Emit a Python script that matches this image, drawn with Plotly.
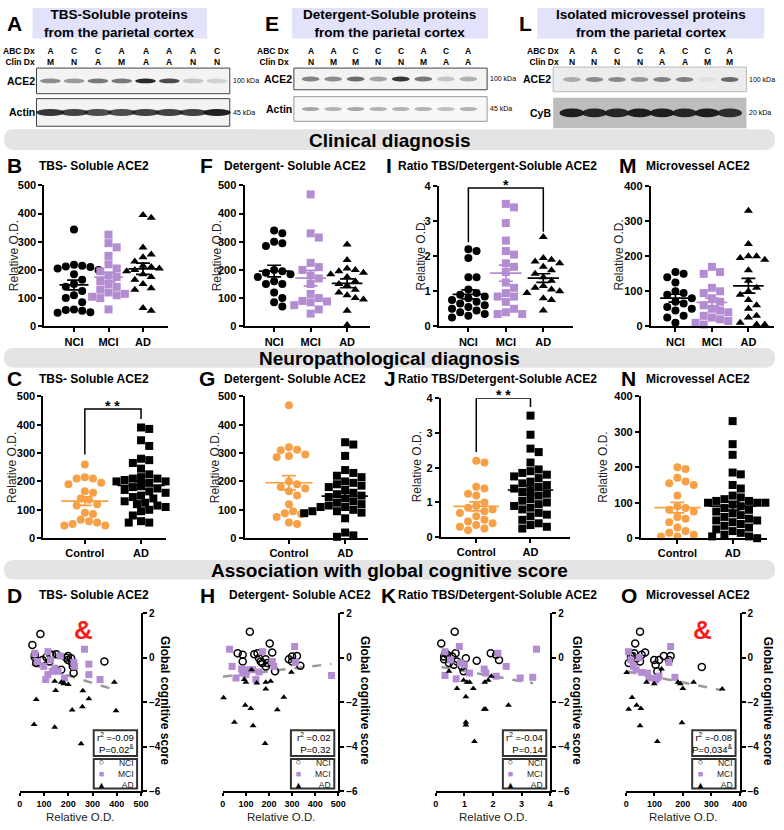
import numpy as np
import plotly.graph_objects as go

W, H = 784, 830
FONT = "Liberation Sans, Arial, Helvetica, sans-serif"
PURPLE = "#b48cd2"
ORANGE = "#f8a046"
GRAYBAR = "#e4e4e4"
LAV = "#e2e2fa"

# ---------------- western blots (lane codes + band darkness) ----------------
blotA_abc = ["A", "C", "C", "A", "A", "A", "A", "C"]
blotA_clin = ["M", "N", "A", "M", "A", "A", "N", "N"]
blotA_ace2 = [0.45, 0.4, 0.55, 0.55, 0.9, 0.75, 0.2, 0.15]
blotA_actin = [0.85, 0.8, 0.75, 0.75, 0.8, 0.8, 0.8, 0.95]

blotE_abc = ["A", "A", "C", "C", "C", "A", "C", "A"]
blotE_clin = ["N", "M", "M", "N", "N", "M", "A", "A"]
blotE_ace2 = [0.5, 0.45, 0.6, 0.35, 0.85, 0.55, 0.2, 0.3]
blotE_actin = [0.35, 0.3, 0.35, 0.3, 0.3, 0.3, 0.25, 0.3]

blotL_abc = ["A", "A", "C", "C", "A", "C", "C", "A"]
blotL_clin = ["N", "N", "N", "N", "A", "A", "M", "M"]
blotL_ace2 = [0.3, 0.45, 0.45, 0.4, 0.5, 0.5, 0.05, 0.6]
blotL_cyb = [0.95, 0.9, 0.9, 0.95, 0.95, 0.9, 0.95, 0.85]

# ---------------- clinical diagnosis (NCI / MCI / AD) ----------------
clin_labels = ["NCI", "MCI", "AD"]
tbs_nci = [343, 218, 215, 212, 210, 205, 200, 185, 165, 150, 140, 125, 110, 100, 85, 60, 58, 55, 50, 48]
tbs_mci = [325, 295, 280, 250, 220, 205, 195, 180, 175, 160, 150, 140, 130, 120, 115, 110, 105, 100, 60]
tbs_ad = [395, 385, 280, 255, 245, 230, 215, 210, 205, 200, 195, 185, 175, 165, 150, 135, 130, 65, 55]

det_nci = [340, 330, 300, 295, 285, 200, 190, 195, 185, 175, 160, 150, 150, 120, 100, 85, 70]
det_mci = [468, 330, 315, 225, 210, 200, 180, 170, 150, 115, 100, 90, 88, 85, 75, 60, 45]
det_ad = [290, 235, 205, 200, 195, 190, 185, 175, 160, 150, 145, 130, 120, 110, 100, 95, 55, 5]

ratio_nci = [2.2, 2.15, 1.95, 1.4, 1.4, 1.05, 0.95, 0.9, 0.85, 0.8, 0.75, 0.7, 0.65, 0.6, 0.55, 0.5, 0.45, 0.4, 0.35, 0.3, 0.25]
ratio_mci = [3.5, 3.4, 2.95, 2.45, 2.15, 2.05, 1.8, 1.7, 1.55, 1.25, 1.1, 0.95, 0.85, 0.85, 0.7, 0.5, 0.4, 0.35, 0.35]
ratio_ad = [2.55, 1.95, 1.9, 1.85, 1.8, 1.7, 1.6, 1.5, 1.4, 1.3, 1.15, 1.1, 1.05, 1.0, 0.95, 0.8, 0.75, 0.45]

mv_nci = [155, 150, 140, 125, 100, 90, 95, 80, 70, 65, 55, 50, 45, 30, 25, 10]
mv_mci = [170, 155, 150, 110, 100, 95, 80, 70, 60, 50, 45, 40, 30, 25, 20, 15, 10, 5]
mv_ad = [330, 235, 200, 200, 195, 190, 160, 130, 110, 100, 90, 75, 60, 50, 30, 25, 10, 5, 5]

# ---------------- neuropathological diagnosis (Control / AD) ----------------
path_labels = ["Control", "AD"]
tbs_ctl = [260, 215, 210, 210, 195, 190, 165, 160, 140, 135, 120, 115, 90, 85, 65, 60, 55, 50, 45, 45]
tbs_pad = [390, 385, 345, 325, 280, 275, 265, 245, 225, 215, 210, 210, 205, 200, 200, 195, 190, 185, 180,
           175, 170, 165, 160, 150, 145, 140, 130, 125, 120, 115, 110, 100, 95, 80, 60, 55, 55]
det_ctl = [468, 320, 312, 310, 295, 290, 285, 200, 190, 180, 175, 165, 150, 120, 95, 88, 85, 75, 55, 50]
det_pad = [338, 330, 290, 240, 230, 220, 215, 200, 195, 190, 180, 170, 160, 155, 150, 145, 140, 135, 130,
           125, 120, 115, 110, 105, 100, 95, 92, 90, 88, 185, 180, 70, 110, 100, 95, 20, 10, 5]
ratio_ctl = [2.2, 2.15, 1.45, 1.4, 1.25, 1.2, 1.0, 0.9, 0.85, 0.8, 0.75, 0.7, 0.6, 0.5, 0.45, 0.4, 0.35, 0.3, 0.25, 0.2]
ratio_pad = [3.5, 2.95, 2.55, 2.45, 2.15, 1.95, 1.9, 1.85, 1.8, 1.75, 1.7, 1.6, 1.55, 1.5, 1.45, 1.4, 1.35, 1.3,
             1.25, 1.2, 1.1, 1.05, 1.0, 0.95, 0.9, 0.85, 0.8, 0.7, 0.65, 0.6, 0.5, 0.4, 0.35, 0.3, 0.25]
mv_ctl = [200, 195, 170, 160, 155, 150, 120, 90, 85, 75, 80, 60, 55, 45, 30, 20, 15, 10, 5, 5]
mv_pad = [330, 265, 235, 185, 180, 150, 140, 120, 115, 110, 105, 105, 100, 100, 100, 95, 90, 85, 80, 75,
          70, 65, 60, 55, 50, 50, 45, 40, 35, 30, 25, 20, 15, 10, 5, 5, 0]

# ---------------- association with global cognitive score ----------------
D_nci_x = [52, 85, 62, 62, 68, 93, 110, 126, 134, 151, 171, 192, 199, 212, 216, 219, 222, 199, 349, 123]
D_nci_y = [0.57, 1.06, 0.13, 0.02, -0.24, -0.1, 0.02, 0.13, 0.13, 0.15, -0.54, 0.0, -0.1, -0.02, -0.24, -0.39, -0.69, 0.08, -0.17, -0.17]
D_mci_x = [62, 73, 99, 116, 127, 107, 116, 144, 158, 167, 185, 223, 267, 285, 285, 331, 226, 134]
D_mci_y = [0.2, -0.17, -0.39, 0.27, -0.1, -0.98, -0.76, -0.47, -0.61, 0.08, -0.91, -0.21, 0.38, -0.29, -0.76, -0.98, -0.39, -0.61]
D_ad_x = [68, 59, 144, 148, 144, 171, 182, 200, 216, 258, 260, 253, 285, 390, 397, 182]
D_ad_y = [-1.87, -3.0, -1.06, -1.47, -3.12, -1.1, -1.17, -1.2, -2.35, -2.2, -1.48, -3.86, -1.84, -1.1, -2.38, -1.13]
D_fit_x, D_fit_y = [50, 395], [-0.3, -1.45]

H_nci_x = [117, 64, 86, 86, 136, 150, 157, 164, 171, 186, 203, 214, 226, 286, 300, 300, 321, 336, 186, 193]
H_nci_y = [1.16, 0.2, 0.13, -0.17, 0.15, 0.2, -0.02, -0.17, -0.24, -0.07, 0.64, 0.23, -0.61, -0.07, 0.05, -0.17, 0.08, -0.36, -0.39, -0.24]
H_mci_x = [29, 40, 57, 81, 100, 107, 86, 143, 157, 171, 214, 221, 311, 314, 471, 129]
H_mci_y = [0.38, -0.39, -0.91, -0.51, -0.76, -0.54, -0.69, -0.98, -0.64, 0.27, -0.17, -0.39, 0.5, -0.21, -0.8, -0.54]
H_ad_x = [3, 50, 97, 121, 131, 124, 100, 147, 186, 186, 207, 236, 264, 183, 297, 93]
H_ad_y = [-1.8, -2.9, -2.13, -2.28, -3.05, -0.54, -1.1, -1.13, -1.1, -1.4, -1.06, -2.33, -1.77, -3.85, -0.65, -0.98]
H_fit_x, H_fit_y = [0, 470], [-0.85, -0.28]

K_nci_x = [0.19, 0.66, 0.29, 0.34, 0.4, 0.46, 0.57, 0.63, 0.69, 0.74, 0.91, 0.97, 1.05, 1.43, 1.92, 2.11, 2.21, 0.29]
K_nci_y = [0.64, 1.16, -0.07, 0.2, 0.13, -0.24, 0.05, -0.32, 0.2, -0.17, -0.39, -0.61, -0.02, -0.14, 0.2, 0.13, -0.1, 0.05]
K_mci_x = [0.32, 0.32, 0.51, 0.71, 0.82, 1.0, 1.18, 1.69, 1.75, 2.11, 2.17, 2.46, 2.95, 3.39, 3.52, 0.86]
K_mci_y = [0.27, -0.8, -0.1, -0.95, 0.5, -0.32, -0.69, -0.51, -0.69, -0.83, 0.2, -0.39, -0.91, -0.88, 0.38, -0.24]
K_ad_x = [0.46, 0.74, 0.97, 1.09, 1.18, 1.05, 1.31, 1.05, 1.05, 1.35, 1.69, 1.74, 1.71, 1.83, 1.94, 2.54]
K_ad_y = [-0.61, -1.38, -1.01, -1.1, -1.1, -1.75, -1.38, -2.9, -3.02, -3.76, -2.31, -2.31, -1.1, -1.01, -0.83, -2.13]
K_fit_x, K_fit_y = [0.2, 3.4], [-0.42, -1.15]

O_nci_x = [49, 32, 9, 17, 29, 37, 49, 55, 67, 99, 104, 110, 116, 133, 151, 157, 267, 23]
O_nci_y = [1.16, 0.64, -0.24, 0.05, 0.2, -0.02, -0.17, 0.13, 0.23, -0.1, -0.32, -0.61, -0.1, 0.08, -0.1, 0.08, -0.42, 0.08]
O_mci_x = [8, 17, 26, 35, 55, 75, 81, 104, 110, 116, 157, 151, 172, 46]
O_mci_y = [0.27, -0.1, -0.39, -0.54, -0.66, -0.69, -0.91, -1.0, -0.91, -0.83, 0.5, -0.21, -0.88, 0.0]
O_ad_x = [2, 9, 21, 37, 52, 49, 72, 99, 110, 125, 183, 191, 200, 197, 238, 339]
O_ad_y = [-0.66, -2.31, -1.79, -2.13, -2.28, -3.05, -1.1, -1.17, -3.76, -0.51, -1.1, -1.17, -1.38, -2.92, -1.1, -1.4]
O_fit_x, O_fit_y = [5, 335], [-0.62, -1.45]

# ============================================================================
fig = go.Figure()
shapes, anns, lay = [], [], {}


def P(x, y):
    return x / W, 1 - y / H


def text(x, y, s, size=11, bold=True, xa="center", ya="middle", color="black", angle=0, align="center"):
    px_, py_ = P(x, y)
    anns.append(dict(x=px_, y=py_, xref="paper", yref="paper", text=s, showarrow=False,
                     xanchor=xa, yanchor=ya, textangle=angle, borderpad=0, align=align,
                     font=dict(family=FONT, size=size, color=color,
                               weight="bold" if bold else "normal")))


def rect(x0, y0, x1, y1, fill, line=None, lw=1, layer="below", kind="rect"):
    a, b = P(x0, y1)
    c, d = P(x1, y0)
    shapes.append(dict(type=kind, xref="paper", yref="paper", x0=a, y0=b, x1=c, y1=d,
                       fillcolor=fill, layer=layer,
                       line=dict(color=line or "rgba(0,0,0,0)", width=lw if line else 0)))


def rrect(x0, y0, x1, y1, r, fill):
    def q(x, y):
        a, b = P(x, y)
        return f"{a:.5f},{b:.5f}"
    path = (f"M{q(x0 + r, y0)} L{q(x1 - r, y0)} Q{q(x1, y0)} {q(x1, y0 + r)} "
            f"L{q(x1, y1 - r)} Q{q(x1, y1)} {q(x1 - r, y1)} "
            f"L{q(x0 + r, y1)} Q{q(x0, y1)} {q(x0, y1 - r)} "
            f"L{q(x0, y0 + r)} Q{q(x0, y0)} {q(x0 + r, y0)} Z")
    shapes.append(dict(type="path", xref="paper", yref="paper", path=path,
                       fillcolor=fill, line=dict(width=0), layer="below"))


BASE = dict(showline=True, linecolor="black", linewidth=2, ticks="outside", ticklen=4,
            tickwidth=2, tickcolor="black", showgrid=False, zeroline=False, fixedrange=True,
            tickfont=dict(family=FONT, size=11, color="black", weight="bold"))
n_ax = [0]


def axes(x0, x1, ytop, ybot, xkw, ykw):
    n_ax[0] += 1
    s = "" if n_ax[0] == 1 else str(n_ax[0])
    lay["xaxis" + s] = {**BASE, "domain": [x0 / W, x1 / W], "anchor": "y" + s, **xkw}
    lay["yaxis" + s] = {**BASE, "domain": [1 - ybot / H, 1 - ytop / H], "anchor": "x" + s, **ykw}
    return "x" + s, "y" + s


# ---------------- blot header ----------------
def blot(lanes, abc, clin, lab_right, rows):
    for x, a, c in zip(lanes, abc, clin):
        text(x, 51.5, f"{a}<br>{c}", size=8.5)
    text(lab_right, 51.5, "ABC Dx<br>Clin Dx", size=8.5, xa="right", align="right")
    for lab, bx0, bx1, y0, y1, vals, bh, bw, bg, border, kda in rows:
        rect(bx0, y0, bx1, y1, bg, border, 1)
        yc = (y0 + y1) / 2
        for x, v in zip(lanes, vals):
            rect(x - bw / 2, yc - bh / 2, x + bw / 2, yc + bh / 2,
                 f"rgba(20,20,20,{v})", kind="circle")
        text(bx0 - 1, yc, lab, size=10.5, xa="right")
        text(bx1 + 2, yc, kda, size=7, bold=False, xa="left")


def blot_title(letter, lx, x0, x1, l1, l2):
    text(lx, 18, letter, size=21)
    rect(x0, 2, x1, 33, LAV)
    text((x0 + x1) / 2, 17.5, f"{l1}<br>{l2}", size=13.5)


blot_title("A", 12, 30, 207, "TBS-Soluble proteins", "from the parietal cortex")
blot_title("E", 273, 293, 492, "Detergent-Soluble proteins", "from the parietal cortex")
blot_title("L", 530, 542, 772, "Isolated microvessel proteins", "from the parietal cortex")

blot(np.linspace(48, 217, 8), blotA_abc, blotA_clin, 33, [
    ("ACE2", 34, 230, 63, 89, blotA_ace2, 5, 21, "#f3f3f3", "#444", "100 kDa"),
    ("Actin", 34, 230, 94, 122, blotA_actin, 7, 28, "#f3f3f3", "#444", "45 kDa")])
blot(np.linspace(312, 472, 8), blotE_abc, blotE_clin, 291, [
    ("ACE2", 295, 491, 63, 85, blotE_ace2, 5, 18, "#f3f3f3", "#444", "100 kDa"),
    ("Actin", 295, 491, 92, 117, blotE_actin, 4, 18, "#f8f8f8", "#999", "45 kDa")])
blot(np.linspace(577, 737, 8), blotL_abc, blotL_clin, 565, [
    ("ACE2", 558, 754, 62, 87, blotL_ace2, 5, 18, "#ececec", "#bbb", "100 kDa"),
    ("CyB", 558, 754, 93, 124, blotL_cyb, 9, 25, "#bdbdbd", None, "20 kDa")])

# ---------------- section bars ----------------
for y0, y1, s in [(125, 146, "Clinical diagnosis"), (347, 367, "Neuropathological diagnosis"),
                  (562, 582, "Association with global cognitive score")]:
    rrect(1, y0, 783, y1, 10, GRAYBAR)
    text(392, (y0 + y1) / 2 + 1, s, size=19)


# ---------------- dot plots ----------------
def swarm(vals, ppu, d=8.3):
    vals = np.asarray(vals, float)
    offs = np.zeros(len(vals))
    placed = []
    for i in np.argsort(-vals):
        y = vals[i] * ppu
        c = 0.0
        for k in range(80):
            c = 0.0 if k == 0 else ((k + 1) // 2) * d * 0.5 * (1 if k % 2 else -1)
            if all((c - a) ** 2 + (y - b) ** 2 >= d * d for a, b in placed):
                break
        placed.append((c, y))
        offs[i] = c
    return offs


def dot_panel(x0, x1, ytop, ybot, ymax, dtick, cats, labels, groups, bracket=None):
    u = cats[1] - cats[0]
    xr = [-(cats[0] - x0) / u, (x1 - cats[0]) / u]
    xa, ya = axes(x0, x1, ytop, ybot,
                  dict(range=xr, tickvals=list(range(len(labels))), ticktext=labels),
                  dict(range=[0, ymax], dtick=dtick))
    ppu = (ybot - ytop) / ymax
    for i, (vals, sym, col) in enumerate(groups):
        fig.add_trace(go.Scatter(x=i + swarm(vals, ppu) / u, y=vals, mode="markers",
                                 xaxis=xa, yaxis=ya, cliponaxis=False,
                                 marker=dict(symbol=sym, color=col, size=8, line=dict(width=0))))
    for i, (vals, sym, col) in enumerate(groups):
        v = np.asarray(vals, float)
        m, se = v.mean(), v.std(ddof=1) / np.sqrt(len(v))
        fig.add_trace(go.Scatter(x=[i - 0.42, i + 0.42], y=[m, m], mode="lines", xaxis=xa, yaxis=ya,
                                 line=dict(color=col, width=1.7), cliponaxis=False))
        fig.add_trace(go.Scatter(x=[i], y=[m], mode="markers", xaxis=xa, yaxis=ya,
                                 marker=dict(size=1, color=col),
                                 error_y=dict(type="data", array=[se], width=7, thickness=1.7, color=col)))
    if bracket:
        a, b, lv, top, rv, star = bracket
        fig.add_trace(go.Scatter(x=[a, a, b, b], y=[lv, top, top, rv], mode="lines", xaxis=xa, yaxis=ya,
                                 line=dict(color="black", width=1.5), cliponaxis=False))
        anns.append(dict(x=(a + b) / 2, y=top, xref=xa, yref=ya, text=star, showarrow=False,
                         yanchor="bottom", yshift=-7,
                         font=dict(family=FONT, size=14, color="black", weight="bold")))


def panel_head(letter, lx, tx, y, title):
    text(lx, y, letter, size=21)
    text(tx, y, title, size=12, xa="left")


def ytitle(x, y, s="Relative O.D."):
    text(x, y, s, size=12, bold=False, angle=-90, color="#222")


# clinical row
panel_head("B", 12, 35, 162, "TBS- Soluble ACE2")
panel_head("F", 206, 223, 162, "Detergent- Soluble ACE2")
panel_head("I", 391, 400, 162, "Ratio TBS/Detergent-Soluble ACE2")
panel_head("M", 634, 651, 162, "Microvessel ACE2")
for x in (12, 217, 424, 625):
    ytitle(x, 253)

dot_panel(42, 167, 182, 325, 500, 100, [72, 107, 142], clin_labels,
          [(tbs_nci, "circle", "black"), (tbs_mci, "square", PURPLE), (tbs_ad, "triangle-up", "black")])
dot_panel(245, 372, 182, 325, 500, 100, [275, 312, 347], clin_labels,
          [(det_nci, "circle", "black"), (det_mci, "square", PURPLE), (det_ad, "triangle-up", "black")])
dot_panel(442, 578, 183, 325, 4, 1, [472, 510, 549], clin_labels,
          [(ratio_nci, "circle", "black"), (ratio_mci, "square", PURPLE), (ratio_ad, "triangle-up", "black")],
          bracket=(0, 2, 2.4, 3.95, 2.7, "*"))
dot_panel(657, 782, 183, 325, 400, 100, [682, 719, 755], clin_labels,
          [(mv_nci, "circle", "black"), (mv_mci, "square", PURPLE), (mv_ad, "triangle-up", "black")])

# neuropathological row
panel_head("C", 12, 35, 378, "TBS- Soluble ACE2")
panel_head("G", 207, 223, 378, "Detergent- Soluble ACE2")
panel_head("J", 392, 400, 378, "Ratio TBS/Detergent-Soluble ACE2")
panel_head("N", 634, 651, 378, "Microvessel ACE2")
for x in (9, 215, 420, 609):
    ytitle(x, 468)

dot_panel(41, 165, 396, 540, 500, 100, [83, 140], path_labels,
          [(tbs_ctl, "circle", ORANGE), (tbs_pad, "square", "black")],
          bracket=(0, 1, 295, 455, 420, "* *"))
dot_panel(245, 370, 396, 540, 500, 100, [290, 347], path_labels,
          [(det_ctl, "circle", ORANGE), (det_pad, "square", "black")])
dot_panel(444, 575, 398, 539, 4, 1, [480, 535], path_labels,
          [(ratio_ctl, "circle", ORANGE), (ratio_pad, "square", "black")],
          bracket=(0, 1, 2.45, 4.0, 3.75, "* *"))
dot_panel(647, 775, 396, 540, 400, 100, [684, 740], path_labels,
          [(mv_ctl, "circle", ORANGE), (mv_pad, "square", "black")])


# ---------------- correlation panels ----------------
def corr_panel(x0, x1, xmax, dtick, nci, mci, ad, fit, r2, p, ytx):
    small = dict(family=FONT, size=9, color="black", weight="bold")
    xa, ya = axes(x0, x1, 616, 797,
                  dict(range=[0, xmax], dtick=dtick, tickfont=small, ticklen=3),
                  dict(range=[-6, 2], dtick=2, side="right", tickfont=dict(small, size=10)))
    fig.add_trace(go.Scatter(x=fit[0], y=fit[1], mode="lines", xaxis=xa, yaxis=ya,
                             line=dict(color="#999999", width=2.5, dash="dash")))
    fig.add_trace(go.Scatter(x=nci[0], y=nci[1], mode="markers", xaxis=xa, yaxis=ya, cliponaxis=False,
                             marker=dict(symbol="circle-open", color="black", size=7, line=dict(width=1.5))))
    fig.add_trace(go.Scatter(x=mci[0], y=mci[1], mode="markers", xaxis=xa, yaxis=ya, cliponaxis=False,
                             marker=dict(symbol="square", color=PURPLE, size=7, line=dict(width=0))))
    fig.add_trace(go.Scatter(x=ad[0], y=ad[1], mode="markers", xaxis=xa, yaxis=ya, cliponaxis=False,
                             marker=dict(symbol="triangle-up", color="black", size=6, line=dict(width=0))))
    bx1 = x1 - 4
    bx0 = bx1 - 44
    rect(bx0, 735, bx1, 761, "white", "#333", 2, layer="above")
    text(bx1 - 2, 748, f"{r2}<br>{p}", size=9.5, bold=False, xa="right", align="right")
    rect(bx0, 764, bx1, 794, "white", "#333", 2, layer="above")
    text(bx0 + 8, 779, f"○<br><span style='color:{PURPLE}'>■</span><br>▲", size=9, color="black")
    text(bx1 - 2, 779, "NCI<br>MCI<br>AD", size=8.5, bold=False, xa="right", align="right", color="#222")
    text((x0 + x1) / 2, 822.5, "Relative O.D.", size=11.5, bold=False, color="#222")
    text(ytx, 705, "Global cognitive score", size=12, angle=90)


panel_head("D", 12, 35, 598, "TBS- Soluble ACE2")
panel_head("H", 207, 228, 598, "Detergent- Soluble ACE2")
panel_head("K", 391, 400, 598, "Ratio TBS/Detergent-Soluble ACE2")
panel_head("O", 635, 651, 598, "Microvessel ACE2")

corr_panel(17, 140, 500, 100, (D_nci_x, D_nci_y), (D_mci_x, D_mci_y), (D_ad_x, D_ad_y),
           (D_fit_x, D_fit_y), "r<sup>2</sup> =-0.09", "P=0.02<sup>&amp;</sup>", 165)
corr_panel(223, 340, 500, 100, (H_nci_x, H_nci_y), (H_mci_x, H_mci_y), (H_ad_x, H_ad_y),
           (H_fit_x, H_fit_y), "r<sup>2</sup> =0.02", "P=0.32", 367)
corr_panel(439, 555, 4, 1, (K_nci_x, K_nci_y), (K_mci_x, K_mci_y), (K_ad_x, K_ad_y),
           (K_fit_x, K_fit_y), "r<sup>2</sup> =-0.04", "P=0.14", 582)
corr_panel(632, 747, 400, 100, (O_nci_x, O_nci_y), (O_mci_x, O_mci_y), (O_ad_x, O_ad_y),
           (O_fit_x, O_fit_y), "r<sup>2</sup> =-0.08", "P=0.034<sup>&amp;</sup>", 776)

text(82, 633, "&amp;", size=26, color="#ff1a1a")
text(709, 633, "&amp;", size=26, color="#ff1a1a")

fig.update_layout(width=W, height=H, margin=dict(l=0, r=0, t=0, b=0),
                  plot_bgcolor="white", paper_bgcolor="white", showlegend=False,
                  shapes=shapes, annotations=anns, font=dict(family=FONT), **lay)
fig.write_html("out.html", config={"displayModeBar": False},
               post_script="document.body.style.margin='0';")
